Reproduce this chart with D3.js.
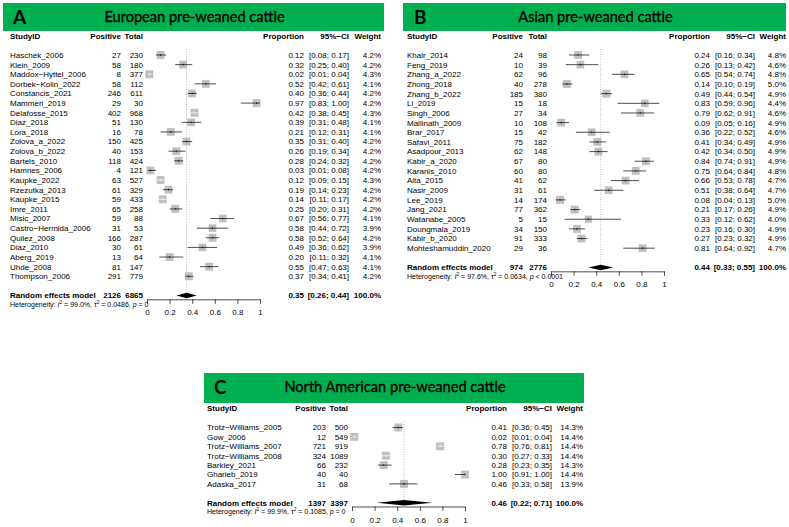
<!DOCTYPE html>
<html><head><meta charset="utf-8">
<script src="https://cdn.jsdelivr.net/npm/d3@7"></script>
<style>body{margin:0;background:#fff}svg{display:block}</style>
</head><body>
<svg id="chart" width="789" height="527"></svg>
<script>
// ---------- DATA ----------
const panelLetters = ["A", "B", "C"];
const panelTitles = ["European pre-weaned cattle", "Asian pre-weaned cattle", "North American pre-weaned cattle"];

const studiesA = ["Haschek_2006","Klein_2009","Maddox\u2212Hyttel_2006","Dorbek\u2212Kolin_2022","Constancis_2021","Mammeri_2019","Delafosse_2015","Diaz_2018","Lora_2018","Zolova_a_2022","Zolova_b_2022","Bartels_2010","Hamnes_2006","Kaupke_2022","Rzezutka_2013","Kaupke_2015","Imre_2011","Misic_2007","Castro\u2212Hermida_2006","Quilez_2008","Diaz_2010","Aberg_2019","Uhde_2008","Thompson_2006"];
const positiveA = [27,58,8,58,246,29,402,51,16,150,40,118,4,63,61,59,65,59,31,166,30,13,81,291];
const totalA = [230,180,377,112,611,30,968,130,78,425,153,424,121,527,329,433,258,88,53,287,61,64,147,779];
const propA = [0.12,0.32,0.02,0.52,0.40,0.97,0.42,0.39,0.21,0.35,0.26,0.28,0.03,0.12,0.19,0.14,0.25,0.67,0.58,0.58,0.49,0.20,0.55,0.37];
const lowerA = [0.08,0.25,0.01,0.42,0.36,0.83,0.38,0.31,0.12,0.31,0.19,0.24,0.01,0.09,0.14,0.11,0.20,0.56,0.44,0.52,0.36,0.11,0.47,0.34];
const upperA = [0.17,0.40,0.04,0.61,0.44,1.00,0.45,0.48,0.31,0.40,0.34,0.32,0.08,0.15,0.23,0.17,0.31,0.77,0.72,0.64,0.62,0.32,0.63,0.41];
const weightA = [4.2,4.2,4.3,4.1,4.2,4.2,4.3,4.1,4.1,4.2,4.2,4.2,4.2,4.3,4.2,4.2,4.2,4.1,3.9,4.2,3.9,4.1,4.1,4.2];

const studiesB = ["Khair_2014","Feng_2019","Zhang_a_2022","Zhong_2018","Zhang_b_2022","Li_2019","Singh_2006","Mallinath_2009","Brar_2017","Safavi_2011","Asadpour_2013","Kabir_a_2020","Karanis_2010","Aita_2015","Nasir_2009","Lee_2019","Jang_2021","Watanabe_2005","Doungmala_2019","Kabir_b_2020","Mohteshamuddin_2020"];
const positiveB = [24,10,62,40,185,15,27,10,15,75,62,67,60,41,31,14,77,5,34,91,29];
const totalB = [98,39,96,278,380,18,34,108,42,182,148,80,80,62,61,174,362,15,150,333,36];
const propB = [0.24,0.26,0.65,0.14,0.49,0.83,0.79,0.09,0.36,0.41,0.42,0.84,0.75,0.66,0.51,0.08,0.21,0.33,0.23,0.27,0.81];
const lowerB = [0.16,0.13,0.54,0.10,0.44,0.59,0.62,0.05,0.22,0.34,0.34,0.74,0.64,0.53,0.38,0.04,0.17,0.12,0.16,0.23,0.64];
const upperB = [0.34,0.42,0.74,0.19,0.54,0.96,0.91,0.16,0.52,0.49,0.50,0.91,0.84,0.78,0.64,0.13,0.26,0.62,0.30,0.32,0.92];
const weightB = [4.8,4.6,4.8,5.0,4.9,4.4,4.6,4.9,4.6,4.9,4.9,4.9,4.8,4.7,4.7,5.0,4.9,4.0,4.9,4.9,4.7];

const studiesC = ["Trotz\u2212Williams_2005","Gow_2006","Trotz\u2212Williams_2007","Trotz\u2212Williams_2008","Barkley_2021","Gharieb_2019","Adaska_2017"];
const positiveC = [203,12,721,324,66,40,31];
const totalC = [500,549,919,1089,232,40,68];
const propC = [0.41,0.02,0.78,0.30,0.28,1.00,0.46];
const lowerC = [0.36,0.01,0.76,0.27,0.23,0.91,0.33];
const upperC = [0.45,0.04,0.81,0.33,0.35,1.00,0.58];
const weightC = [14.3,14.4,14.4,14.4,14.3,14.4,13.9];

const pooledPositive = [2126, 974, 1397];
const pooledTotal = [6865, 2776, 3397];
const pooledEst = [0.35, 0.44, 0.46];
const pooledLower = [0.26, 0.33, 0.22];
const pooledUpper = [0.44, 0.55, 0.71];
const hetI2 = ["99.0%", "97.6%", "99.9%"];
const hetTau2 = ["0.0486", "0.0634", "0.1085"];
const hetP = ["= 0", "< 0.0001", "= 0"];

const tickValues = [0, 0.2, 0.4, 0.6, 0.8, 1];
const tickLabels = ["0", "0.2", "0.4", "0.6", "0.8", "1"];

// ---------- LAYOUT ----------
const layouts = [
  {box:[3,3,384,31], letterX:13, studyX:10, posR:121, totR:143, ax:[147,260], propR:304, ciR:349, wR:381, headY:36, row0:55, step:9.62},
  {box:[403,3,786,31], letterX:414, studyX:407, posR:523, totR:547, ax:[551,664], propR:710, ciR:755, wR:786, headY:36, row0:55, step:9.66},
  {box:[204,373,584,403], letterX:214, studyX:207, posR:326, totR:348, ax:[352,465], propR:507, ciR:552, wR:583, headY:408.5, row0:427.5, step:9.4}
];

const dataSets = [
  {studies:studiesA, pos:positiveA, tot:totalA, est:propA, lo:lowerA, hi:upperA, w:weightA},
  {studies:studiesB, pos:positiveB, tot:totalB, est:propB, lo:lowerB, hi:upperB, w:weightB},
  {studies:studiesC, pos:positiveC, tot:totalC, est:propC, lo:lowerC, hi:upperC, w:weightC}
];

const svg = d3.select("#chart");
const FONT = "'Liberation Sans', Arial, Helvetica, sans-serif";
const FS = 8;
const f2 = d3.format(".2f");
const f1 = d3.format(".1f");

function txt(g, x, yc, s, anchor, bold, size) {
  const sz = size || FS;
  return g.append("text").attr("x", x).attr("y", yc + sz * 0.36)
    .attr("text-anchor", anchor || "start")
    .attr("font-family", FONT).attr("font-size", sz)
    .attr("font-weight", bold ? "bold" : "normal")
    .attr("fill", "#000").text(s);
}

dataSets.forEach((d, pi) => {
  const L = layouts[pi];
  const g = svg.append("g");
  // green title box
  g.append("rect").attr("x", L.box[0]).attr("y", L.box[1])
    .attr("width", L.box[2] - L.box[0]).attr("height", L.box[3] - L.box[1])
    .attr("fill", "#00b050");
  g.append("text").attr("x", L.letterX).attr("y", L.box[1] + 21)
    .attr("font-family", "Lato, 'Open Sans', sans-serif").attr("font-weight", "bold")
    .attr("font-size", 19).attr("fill", "#000").text(panelLetters[pi]);
  g.append("text").attr("x", (L.box[0] + L.box[2]) / 2 + 1).attr("y", L.box[1] + 19)
    .attr("text-anchor", "middle")
    .attr("font-family", "Lato, 'Open Sans', sans-serif").attr("font-weight", "normal")
    .attr("font-size", 14.6).attr("fill", "#000")
    .attr("stroke", "#000").attr("stroke-width", 0.35)
    .text(panelTitles[pi]);

  // header
  txt(g, L.studyX, L.headY, "StudyID", "start", true);
  txt(g, L.posR, L.headY, "Positive", "end", true);
  txt(g, L.totR, L.headY, "Total", "end", true);
  txt(g, L.propR, L.headY, "Proportion", "end", true);
  txt(g, L.ciR, L.headY, "95%\u2212CI", "end", true);
  txt(g, L.wR, L.headY, "Weight", "end", true);

  const x = d3.scaleLinear().domain([0, 1]).range(L.ax);
  const n = d.studies.length;
  const y = i => L.row0 + i * L.step;
  const reY = y(n + 1);
  const axisY = reY + 3.8;
  const maxW = d3.max(d.w);

  // reference dotted line
  g.append("line").attr("x1", x(pooledEst[pi])).attr("x2", x(pooledEst[pi]))
    .attr("y1", L.row0 - 6).attr("y2", reY - 3)
    .attr("stroke", "#888").attr("stroke-width", 0.6).attr("stroke-dasharray", "1,1.5");

  d.studies.forEach((s, i) => {
    const yc = y(i);
    txt(g, L.studyX, yc, s, "start");
    txt(g, L.posR, yc, String(d.pos[i]), "end");
    txt(g, L.totR, yc, String(d.tot[i]), "end");
    txt(g, L.propR, yc, f2(d.est[i]), "end");
    txt(g, L.ciR, yc, "[" + f2(d.lo[i]) + "; " + f2(d.hi[i]) + "]", "end");
    txt(g, L.wR, yc, f1(d.w[i]) + "%", "end");

    const sz = 8 * Math.sqrt(d.w[i] / maxW);
    const cx = x(d.est[i]);
    g.append("rect").attr("x", cx - sz / 2).attr("y", yc - sz / 2)
      .attr("width", sz).attr("height", sz).attr("fill", "#c0c0c0");
    const inside = (x(d.hi[i]) - x(d.lo[i])) <= sz;
    const col = inside ? "#fff" : "#000";
    g.append("line").attr("x1", x(d.lo[i])).attr("x2", x(d.hi[i]))
      .attr("y1", yc).attr("y2", yc).attr("stroke", col).attr("stroke-width", 0.7);
    g.append("line").attr("x1", cx).attr("x2", cx)
      .attr("y1", yc - 1).attr("y2", yc + 1).attr("stroke", col).attr("stroke-width", 0.6);
  });

  // pooled row
  txt(g, L.studyX, reY, "Random effects model", "start", true);
  txt(g, L.posR, reY, String(pooledPositive[pi]), "end", true);
  txt(g, L.totR, reY, String(pooledTotal[pi]), "end", true);
  txt(g, L.propR, reY, f2(pooledEst[pi]), "end", true);
  txt(g, L.ciR, reY, "[" + f2(pooledLower[pi]) + "; " + f2(pooledUpper[pi]) + "]", "end", true);
  txt(g, L.wR, reY, "100.0%", "end", true);
  const dh = 2.8;
  g.append("path").attr("d",
    `M${x(pooledLower[pi])},${reY} L${x(pooledEst[pi])},${reY - dh} L${x(pooledUpper[pi])},${reY} L${x(pooledEst[pi])},${reY + dh} Z`)
    .attr("fill", "#000");

  // heterogeneity
  const hs = 7.0;
  const ht = g.append("text").attr("x", L.studyX).attr("y", reY + 8.6 + hs * 0.36)
    .attr("font-family", FONT).attr("font-size", hs).attr("fill", "#000");
  ht.append("tspan").text("Heterogeneity: ");
  ht.append("tspan").attr("font-style", "italic").text("I");
  ht.append("tspan").attr("font-size", hs * 0.7).attr("dy", -2.5).text("2");
  ht.append("tspan").attr("dy", 2.5).text(" = " + hetI2[pi] + ", \u03c4");
  ht.append("tspan").attr("font-size", hs * 0.7).attr("dy", -2.5).text("2");
  ht.append("tspan").attr("dy", 2.5).text(" = " + hetTau2[pi] + ", ");
  ht.append("tspan").attr("font-style", "italic").text("p");
  ht.append("tspan").text(" " + hetP[pi]);

  // axis
  const axis = d3.axisBottom(x).tickValues(tickValues)
    .tickFormat((v, i) => tickLabels[i]).tickSize(4.5).tickSizeOuter(0).tickPadding(6);
  const ag = g.append("g").attr("transform", `translate(0,${axisY})`).call(axis);
  ag.select(".domain").attr("stroke", "#000").attr("stroke-width", 0.7);
  ag.selectAll(".tick line").attr("stroke", "#000").attr("stroke-width", 0.7);
  ag.selectAll(".tick text").attr("font-family", FONT).attr("font-size", FS).attr("fill", "#000");
});
</script>
</body></html>
